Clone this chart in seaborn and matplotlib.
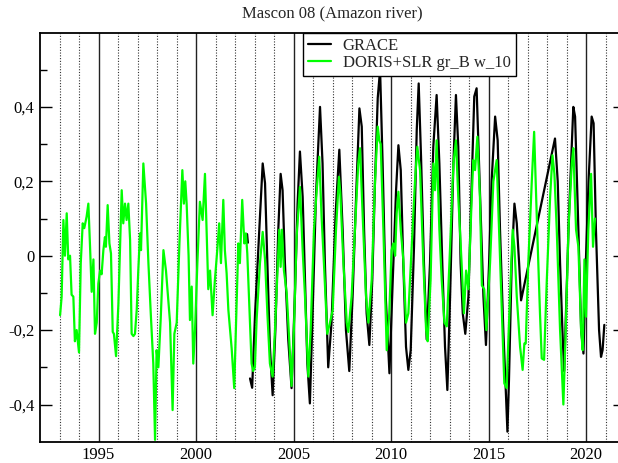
import numpy as np
import pandas as pd
import matplotlib
matplotlib.use("Agg")
import matplotlib.pyplot as plt
from matplotlib.ticker import FixedLocator, FixedFormatter
import seaborn as sns

# ---------------- data ----------------
title = "Mascon 08 (Amazon river)"
series_names = ["GRACE", "DORIS+SLR gr_B w_10"]

grace_year = [2002.62, 2002.66,
    2002.77, 2002.88, 2003.03, 2003.28, 2003.42, 2003.54, 2003.66, 2003.79, 2003.93,
    2004.07, 2004.22, 2004.34, 2004.44, 2004.56, 2004.73, 2004.90,
    2005.07, 2005.21, 2005.33, 2005.47, 2005.59, 2005.71, 2005.84, 2005.98,
    2006.15, 2006.36, 2006.49, 2006.61, 2006.78, 2006.95,
    2007.16, 2007.35, 2007.52, 2007.69, 2007.86,
    2008.03, 2008.21, 2008.38, 2008.50, 2008.62, 2008.75, 2008.89,
    2009.04, 2009.18, 2009.32, 2009.44, 2009.57, 2009.73, 2009.92,
    2010.09, 2010.26, 2010.38, 2010.50, 2010.63, 2010.77, 2010.89,
    2011.01, 2011.18, 2011.32, 2011.42, 2011.54, 2011.69, 2011.83,
    2012.00, 2012.17, 2012.34, 2012.48, 2012.63, 2012.77, 2012.89,
    2013.03, 2013.20, 2013.33, 2013.45, 2013.57, 2013.68, 2013.81, 2013.97,
    2014.14, 2014.27, 2014.39, 2014.57, 2014.74, 2014.87,
    2015.03, 2015.16, 2015.34, 2015.47, 2015.59, 2015.76, 2015.90, 2015.97,
    2016.05, 2016.19, 2016.33, 2016.45, 2016.57, 2016.67,
    2018.41, 2018.55, 2018.67, 2018.79, 2018.88,
    2019.12, 2019.35, 2019.44, 2019.61, 2019.75, 2019.87, 2019.99,
    2020.13, 2020.29, 2020.39, 2020.51, 2020.67, 2020.77, 2020.85, 2020.94]
grace_val = [0.058, 0.035,
    -0.33, -0.355, -0.155, 0.105, 0.248, 0.195, -0.02, -0.245, -0.375,
    -0.20, 0.07, 0.22, 0.176, -0.02, -0.225, -0.356,
    -0.11, 0.14, 0.28, 0.158, -0.065, -0.29, -0.397, -0.155,
    0.158, 0.40, 0.248, -0.02, -0.30, -0.18,
    0.114, 0.285, 0.07, -0.20, -0.31,
    -0.11, 0.158, 0.396, 0.347, 0.07, -0.155, -0.24,
    -0.065, 0.20, 0.424, 0.50, 0.248, -0.11, -0.316,
    -0.065, 0.176, 0.297, 0.23, -0.02, -0.245, -0.307,
    -0.254, 0.024, 0.338, 0.463, 0.266, -0.02, -0.225,
    -0.02, 0.293, 0.432, 0.248, -0.02, -0.245, -0.361,
    -0.11, 0.248, 0.432, 0.293, -0.02, -0.155, -0.21, -0.11,
    0.20, 0.428, 0.45, 0.158, -0.11, -0.24,
    -0.02, 0.20, 0.374, 0.31, 0.07, -0.20, -0.38, -0.473,
    -0.334, -0.02, 0.14, 0.087, -0.02, -0.12,
    0.315, 0.20, -0.02, -0.20, -0.31,
    0.10, 0.40, 0.374, 0.07, -0.20, -0.263, -0.02,
    0.20, 0.374, 0.356, 0.07, -0.20, -0.272, -0.254, -0.186]
# the first two GRACE points form a separate short piece (data gap after them)
grace_first_piece = 2

doris_year = [
    1993.03, 1993.11, 1993.20, 1993.28, 1993.37, 1993.45, 1993.54, 1993.62, 1993.71, 1993.79, 1993.88,
    1994.00, 1994.09, 1994.19, 1994.27, 1994.39, 1994.48, 1994.56, 1994.65, 1994.74, 1994.82, 1994.91,
    1994.99, 1995.08, 1995.16, 1995.25, 1995.33, 1995.38, 1995.47, 1995.56, 1995.64, 1995.73, 1995.79, 1995.90,
    1996.02, 1996.10, 1996.19, 1996.27, 1996.36, 1996.44, 1996.53, 1996.62, 1996.70, 1996.79, 1996.87, 1996.96,
    1997.04, 1997.13, 1997.18, 1997.30, 1997.44, 1997.56, 1997.68, 1997.81, 1997.90, 1997.98,
    1998.07, 1998.19, 1998.33, 1998.46, 1998.58, 1998.67, 1998.80, 1998.89,
    1999.01, 1999.15, 1999.30, 1999.38, 1999.45, 1999.52, 1999.62, 1999.69, 1999.78, 1999.86, 1999.95,
    2000.07, 2000.20, 2000.34, 2000.46, 2000.54, 2000.63, 2000.72, 2000.85, 2000.97,
    2001.09, 2001.19, 2001.28, 2001.40, 2001.48, 2001.57, 2001.66, 2001.83, 2001.96,
    2002.05, 2002.17, 2002.25, 2002.37, 2002.48, 2002.56, 2002.63, 2002.77, 2002.85, 2002.93,
    2003.02, 2003.11, 2003.28, 2003.42, 2003.54, 2003.66, 2003.79, 2003.93,
    2004.05, 2004.17, 2004.27, 2004.34, 2004.41, 2004.51, 2004.65, 2004.78, 2004.90,
    2005.02, 2005.16, 2005.33, 2005.47, 2005.59, 2005.76, 2005.88,
    2006.05, 2006.19, 2006.32, 2006.44, 2006.56, 2006.73, 2006.87,
    2007.01, 2007.18, 2007.33, 2007.40, 2007.56, 2007.73, 2007.81, 2007.98,
    2008.15, 2008.32, 2008.41, 2008.55, 2008.72, 2008.84,
    2009.01, 2009.18, 2009.32, 2009.40, 2009.47, 2009.61, 2009.78, 2009.91,
    2010.03, 2010.12, 2010.21, 2010.29, 2010.38, 2010.50, 2010.63, 2010.77, 2010.89,
    2011.06, 2011.23, 2011.35, 2011.49, 2011.66, 2011.80, 2011.88,
    2012.03, 2012.17, 2012.26, 2012.34, 2012.48, 2012.60, 2012.74, 2012.86,
    2013.03, 2013.20, 2013.33, 2013.45, 2013.62, 2013.74, 2013.85, 2013.97,
    2014.14, 2014.22, 2014.31, 2014.43, 2014.56, 2014.66, 2014.78, 2014.89,
    2015.08, 2015.25, 2015.42, 2015.54, 2015.68, 2015.81, 2015.93,
    2016.10, 2016.24, 2016.33, 2016.45, 2016.62, 2016.75, 2016.84, 2016.91,
    2017.04, 2017.22, 2017.34, 2017.47, 2017.64, 2017.73, 2017.85, 2017.99,
    2018.16, 2018.28, 2018.38, 2018.50, 2018.67, 2018.84, 2018.96,
    2019.10, 2019.27, 2019.35, 2019.49, 2019.61, 2019.75, 2019.83, 2019.92,
    2020.00, 2020.12, 2020.26, 2020.36, 2020.46]
doris_val = [
    -0.16, -0.11, 0.096, 0.0, 0.114, -0.01, 0.0, -0.105, -0.11, -0.23, -0.20,
    -0.26, -0.02, 0.087, 0.074, 0.105, 0.14, 0.033, -0.097, -0.01, -0.21, -0.18,
    -0.075, -0.04, -0.05, 0.015, 0.05, 0.024, 0.136, 0.033, 0.006, -0.205, -0.21, -0.27,
    -0.13, 0.015, 0.176, 0.087, 0.14, 0.096, 0.14, 0.042, -0.21, -0.216, -0.21, -0.146,
    -0.04, 0.06, 0.015, 0.248, 0.14, -0.02, -0.155, -0.29, -0.495, -0.254,
    -0.30, -0.17, 0.015, -0.04, -0.12, -0.18, -0.415, -0.21,
    -0.18, 0.033, 0.23, 0.14, 0.20, 0.14, 0.0, -0.173, -0.083, -0.29, -0.20,
    -0.02, 0.145, 0.096, 0.22, 0.07, -0.09, -0.04, -0.16, -0.065,
    0.015, 0.087, -0.02, 0.15, 0.015, -0.047, -0.146, -0.25, -0.356,
    -0.19, 0.033, -0.02, 0.15, 0.033, 0.06, 0.006, -0.18, -0.29, -0.31,
    -0.30, -0.17, -0.02, 0.064, -0.01, -0.155, -0.29, -0.325,
    -0.20, -0.056, 0.07, -0.03, 0.07, -0.04, -0.10, -0.225, -0.35,
    -0.20, 0.05, 0.185, 0.015, -0.11, -0.325, -0.20,
    0.07, 0.176, 0.266, 0.105, -0.02, -0.21, -0.18,
    -0.146, 0.07, 0.212, 0.17, -0.02, -0.18, -0.205, -0.11,
    0.07, 0.248, 0.289, 0.105, -0.11, -0.18,
    -0.065, 0.20, 0.347, 0.31, 0.30, 0.07, -0.254, -0.155,
    0.015, 0.033, 0.0, 0.114, 0.172, 0.07, -0.01, -0.18, -0.155,
    0.024, 0.20, 0.293, 0.23, -0.02, -0.20, -0.23,
    -0.065, 0.248, 0.176, 0.31, 0.07, -0.065, -0.18, -0.19,
    0.024, 0.248, 0.31, 0.158, -0.02, -0.155, -0.04, -0.09,
    0.158, 0.257, 0.23, 0.32, 0.158, -0.08, -0.09, -0.20,
    -0.02, 0.20, 0.257, 0.07, -0.155, -0.343, -0.356,
    -0.11, 0.07, 0.024, -0.11, -0.245, -0.307, -0.236, -0.236,
    -0.02, 0.20, 0.333, 0.114, -0.155, -0.276, -0.28, -0.065,
    0.158, 0.27, 0.22, 0.07, -0.20, -0.40, -0.20,
    0.07, 0.248, 0.289, 0.07, 0.024, -0.20, -0.254, -0.01,
    -0.164, 0.07, 0.22, 0.024, 0.10]

x_major = [1995, 2000, 2005, 2010, 2015, 2020]
x_major_labels = ["1995", "2000", "2005", "2010", "2015", "2020"]
x_minor = [1993, 1994, 1996, 1997, 1998, 1999, 2001, 2002, 2003, 2004, 2006, 2007,
           2008, 2009, 2011, 2012, 2013, 2014, 2016, 2017, 2018, 2019, 2021]
y_major = [-0.4, -0.2, 0.0, 0.2, 0.4]
y_major_labels = ["-0,4", "-0,2", "0", "0,2", "0,4"]
y_minor = [-0.3, -0.1, 0.1, 0.3, 0.5]

# ---------------- figure ----------------
sns.set_style("white")
plt.rcParams["font.family"] = ["Liberation Serif", "DejaVu Serif"]
plt.rcParams["font.size"] = 12

W, H = 618, 463
fig = plt.figure(figsize=(W / 100, H / 100), dpi=100)
left_px, right_px, top_px, bot_px = 40, 625, 32.5, 441.7
ax = fig.add_axes([left_px / W, 1 - bot_px / H, (right_px - left_px) / W, (bot_px - top_px) / H])

n_g = min(len(grace_year), len(grace_val))
grace_df = pd.DataFrame({"year": grace_year[:n_g], "value": grace_val[:n_g]})
grace_df["seg"] = (np.arange(n_g) >= grace_first_piece).astype(int)
n_d = min(len(doris_year), len(doris_val))
doris_df = pd.DataFrame({"year": doris_year[:n_d], "value": doris_val[:n_d]})

sns.lineplot(data=grace_df, x="year", y="value", units="seg", estimator=None,
             color="black", linewidth=1.6, sort=False, ax=ax, label=series_names[0], zorder=3)
sns.lineplot(data=doris_df, x="year", y="value", estimator=None,
             color="#00ff00", linewidth=1.6, sort=False, ax=ax, label=series_names[1], zorder=4)

ax.set_xlim(1992, 2022)
ax.set_ylim(-0.5, 0.6)
ax.set_xlabel("")
ax.set_ylabel("")

ax.xaxis.set_major_locator(FixedLocator(x_major))
ax.xaxis.set_major_formatter(FixedFormatter(x_major_labels))
ax.xaxis.set_minor_locator(FixedLocator(x_minor))
ax.yaxis.set_major_locator(FixedLocator(y_major))
ax.yaxis.set_major_formatter(FixedFormatter(y_major_labels))
ax.yaxis.set_minor_locator(FixedLocator(y_minor))

ax.grid(False)
ax.grid(which="major", axis="x", color="#222222", linewidth=1.0, linestyle="-")
ax.grid(which="minor", axis="x", color="#333333", linewidth=0.8, linestyle=(0, (1, 1.5)))
ax.set_axisbelow(True)

ax.tick_params(axis="x", which="both", length=0, pad=4, labelsize=12, colors="black")
ax.tick_params(axis="y", which="both", direction="in", left=True, right=True,
               labelsize=12, pad=4, colors="black")
ax.tick_params(axis="y", which="major", length=8.6, width=1.0)
ax.tick_params(axis="y", which="minor", length=5, width=1.0)

for sp in ax.spines.values():
    sp.set_color("black")
    sp.set_linewidth(1.3)

ax.set_title(title, fontsize=12, pad=10)

handles, labels = ax.get_legend_handles_labels()
uniq_h, uniq_l = [], []
for h, l in zip(handles, labels):
    if l not in uniq_l:
        uniq_h.append(h)
        uniq_l.append(l)

leg = ax.legend(uniq_h, uniq_l, loc="upper left",
                bbox_to_anchor=((302.7 - left_px) / (right_px - left_px), 1.0),
                borderaxespad=0, frameon=True, fancybox=False, edgecolor="black",
                framealpha=1, fontsize=12, handlelength=1.4, handletextpad=0.7,
                borderpad=0.3, labelspacing=0.1)
leg.get_frame().set_linewidth(1.0)
for line in leg.get_lines():
    line.set_linewidth(1.6)

fig.savefig("out.png", dpi=100)
